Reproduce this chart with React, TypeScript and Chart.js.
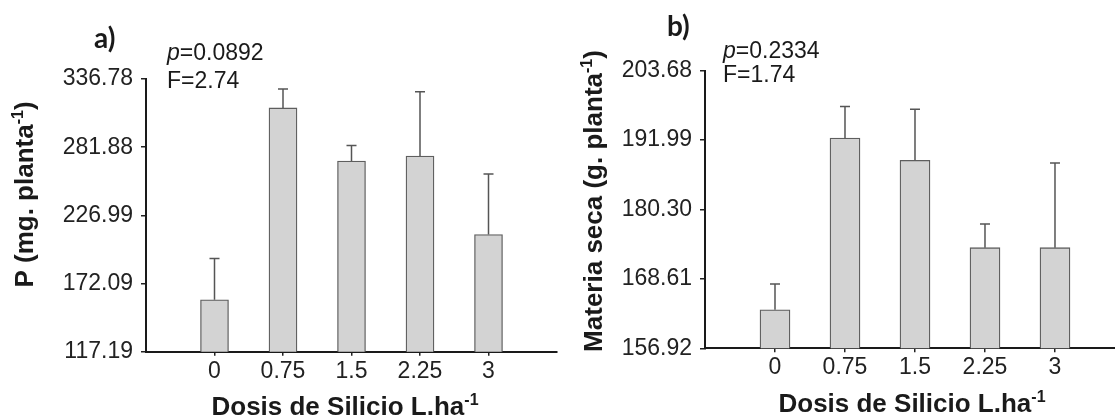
import React, { useEffect, useRef } from 'react';
import { Chart, registerables } from 'chart.js';

Chart.register(...registerables);

// ---------- data ----------
const doses = [0, 0.75, 1.5, 2.25, 3];
const doseLabels = ['0', '0.75', '1.5', '2.25', '3'];

const phosphorus = [159.0, 313.5, 270.7, 274.7, 211.5];
const phosphorusErr = [33.2, 15.3, 12.5, 51.9, 48.7];
const phosphorusTicks = [117.19, 172.09, 226.99, 281.88, 336.78];
const phosphorusStats = { p: '0.0892', F: '2.74' };

const dryMatter = [163.41, 192.32, 188.58, 173.87, 173.87];
const dryMatterErr = [4.36, 5.32, 8.61, 3.97, 14.26];
const dryMatterTicks = [156.92, 168.61, 180.3, 191.99, 203.68];
const dryMatterStats = { p: '0.2334', F: '1.74' };

const xTitle = 'Dosis de Silicio L.ha';
const yTitleA = 'P (mg. planta';
const yTitleB = 'Materia seca (g. planta';
const SUP = '-1';

const FONT = '"Liberation Sans", Arial, Helvetica, sans-serif';

type Part = { t: string; sup?: boolean };

function drawParts(ctx: CanvasRenderingContext2D, parts: Part[], x: number, y: number, rot: number, size: number) {
  ctx.save();
  ctx.translate(x, y);
  ctx.rotate(rot);
  const big = `bold ${size}px ${FONT}`;
  const small = `bold ${Math.round(size * 0.62)}px ${FONT}`;
  let total = 0;
  const widths = parts.map((p) => {
    ctx.font = p.sup ? small : big;
    const w = ctx.measureText(p.t).width;
    total += w;
    return w;
  });
  let cx = -total / 2;
  ctx.textBaseline = 'alphabetic';
  ctx.textAlign = 'left';
  parts.forEach((p, i) => {
    ctx.font = p.sup ? small : big;
    ctx.fillText(p.t, cx, p.sup ? -size * 0.4 : 0);
    cx += widths[i];
  });
  ctx.restore();
}

const errorBarPlugin = {
  id: 'errorBars',
  afterDatasetsDraw(chart: any, _args: any, opts: any) {
    const meta = chart.getDatasetMeta(0);
    const yScale = chart.scales.y;
    const ctx = chart.ctx as CanvasRenderingContext2D;
    const values: number[] = opts.values;
    const errs: number[] = opts.errors;
    ctx.save();
    ctx.strokeStyle = '#555';
    ctx.lineWidth = 1.5;
    meta.data.forEach((bar: any, i: number) => {
      const yTop = yScale.getPixelForValue(values[i] + errs[i]);
      ctx.beginPath();
      ctx.moveTo(bar.x, bar.y);
      ctx.lineTo(bar.x, yTop);
      ctx.moveTo(bar.x - 5, yTop);
      ctx.lineTo(bar.x + 5, yTop);
      ctx.stroke();
    });
    ctx.restore();
  },
};

const textPlugin = {
  id: 'panelText',
  afterDraw(chart: any, _args: any, o: any) {
    const ctx = chart.ctx as CanvasRenderingContext2D;
    ctx.save();
    ctx.fillStyle = '#1a1a1a';
    ctx.textBaseline = 'alphabetic';
    ctx.textAlign = 'left';
    ctx.font = `bold 28px Lato, "Open Sans", sans-serif`;
    ctx.fillText(o.letter, o.letterX, o.letterY);

    ctx.font = `italic 23px ${FONT}`;
    ctx.fillText('p', o.statX, o.pY);
    const pw = ctx.measureText('p').width;
    ctx.font = `23px ${FONT}`;
    ctx.fillText('=' + o.p, o.statX + pw, o.pY);
    ctx.fillText('F=' + o.F, o.statX, o.fY);

    drawParts(ctx, [{ t: o.yTitle }, { t: SUP, sup: true }, { t: ')' }], o.yTitleX, o.yTitleY, -Math.PI / 2, 26);
    drawParts(ctx, [{ t: xTitle }, { t: SUP, sup: true }], o.xTitleX, o.xTitleY, 0, 26);
    ctx.restore();
  },
};

type PanelProps = {
  values: number[];
  errors: number[];
  ticks: number[];
  xMax: number;
  barThickness: number;
  yAxisWidth: number;
  top: number;
  bottom: number;
  rightPad: number;
  width: number;
  text: any;
};

function Panel(props: PanelProps) {
  const ref = useRef<HTMLCanvasElement>(null);
  useEffect(() => {
    if (!ref.current) return;
    const height = 417;
    const chart = new Chart(ref.current, {
      type: 'bar',
      data: {
        datasets: [
          {
            data: doses.map((d, i) => ({ x: d, y: props.values[i] })),
            backgroundColor: '#d3d3d3',
            borderColor: '#5e5e5e',
            borderWidth: 1.3,
            barThickness: props.barThickness,
          },
        ],
      },
      options: {
        animation: false,
        responsive: false,
        devicePixelRatio: 1,
        layout: { padding: { left: 0, right: props.rightPad, top: props.top, bottom: 0 } },
        plugins: {
          legend: { display: false },
          tooltip: { enabled: false },
          errorBars: { values: props.values, errors: props.errors },
          panelText: props.text,
        } as any,
        scales: {
          x: {
            type: 'linear',
            min: -0.75,
            max: props.xMax,
            offset: false,
            grid: { display: true, drawOnChartArea: false, drawTicks: true, tickLength: 4, color: '#222', lineWidth: 1.5, offset: false },
            border: { display: true, color: '#1a1a1a', width: 2 },
            afterBuildTicks: (scale: any) => {
              scale.ticks = doses.map((v) => ({ value: v }));
            },
            afterFit: (scale: any) => {
              scale.height = height - props.bottom;
            },
            ticks: {
              autoSkip: false,
              maxRotation: 0,
              padding: 2,
              color: '#222',
              font: { family: FONT, size: 23 },
              callback: (_v: any, i: number) => doseLabels[i],
            },
          },
          y: {
            type: 'linear',
            min: props.ticks[0],
            max: props.ticks[props.ticks.length - 1],
            grid: { display: true, drawOnChartArea: false, drawTicks: true, tickLength: 5, color: '#222', lineWidth: 1.5 },
            border: { display: true, color: '#1a1a1a', width: 2 },
            afterBuildTicks: (scale: any) => {
              scale.ticks = props.ticks.map((v) => ({ value: v }));
            },
            afterFit: (scale: any) => {
              scale.width = props.yAxisWidth;
            },
            ticks: {
              autoSkip: false,
              padding: 8,
              color: '#222',
              font: { family: FONT, size: 23 },
              callback: (_v: any, i: number) => props.ticks[i].toFixed(2),
            },
          },
        },
      } as any,
      plugins: [errorBarPlugin, textPlugin],
    });
    return () => chart.destroy();
  }, []);
  return <canvas ref={ref} width={props.width} height={417} />;
}

export default function App() {
  return (
    <div style={{ position: 'absolute', left: 0, top: 0, width: 1115, height: 417, overflow: 'hidden', background: '#fff' }}>
      <div style={{ position: 'absolute', left: 0, top: 0, width: 560, height: 417 }}>
        <Panel
          values={phosphorus}
          errors={phosphorusErr}
          ticks={phosphorusTicks}
          xMax={3.75}
          barThickness={28}
          yAxisWidth={146}
          top={79}
          bottom={351.7}
          rightPad={3}
          width={560}
          text={{
            letter: 'a)', letterX: 94, letterY: 48,
            p: phosphorusStats.p, F: phosphorusStats.F, statX: 167, pY: 59.5, fY: 88,
            yTitle: yTitleA, yTitleX: 33, yTitleY: 194.5,
            xTitleX: 345, xTitleY: 415,
          }}
        />
      </div>
      <div style={{ position: 'absolute', left: 560, top: 0, width: 555, height: 417 }}>
        <Panel
          values={dryMatter}
          errors={dryMatterErr}
          ticks={dryMatterTicks}
          xMax={3.643}
          barThickness={30}
          yAxisWidth={145}
          top={70.7}
          bottom={348.3}
          rightPad={0}
          width={555}
          text={{
            letter: 'b)', letterX: 107, letterY: 36,
            p: dryMatterStats.p, F: dryMatterStats.F, statX: 163, pY: 58, fY: 82,
            yTitle: yTitleB, yTitleX: 42, yTitleY: 201,
            xTitleX: 352, xTitleY: 412,
          }}
        />
      </div>
    </div>
  );
}
